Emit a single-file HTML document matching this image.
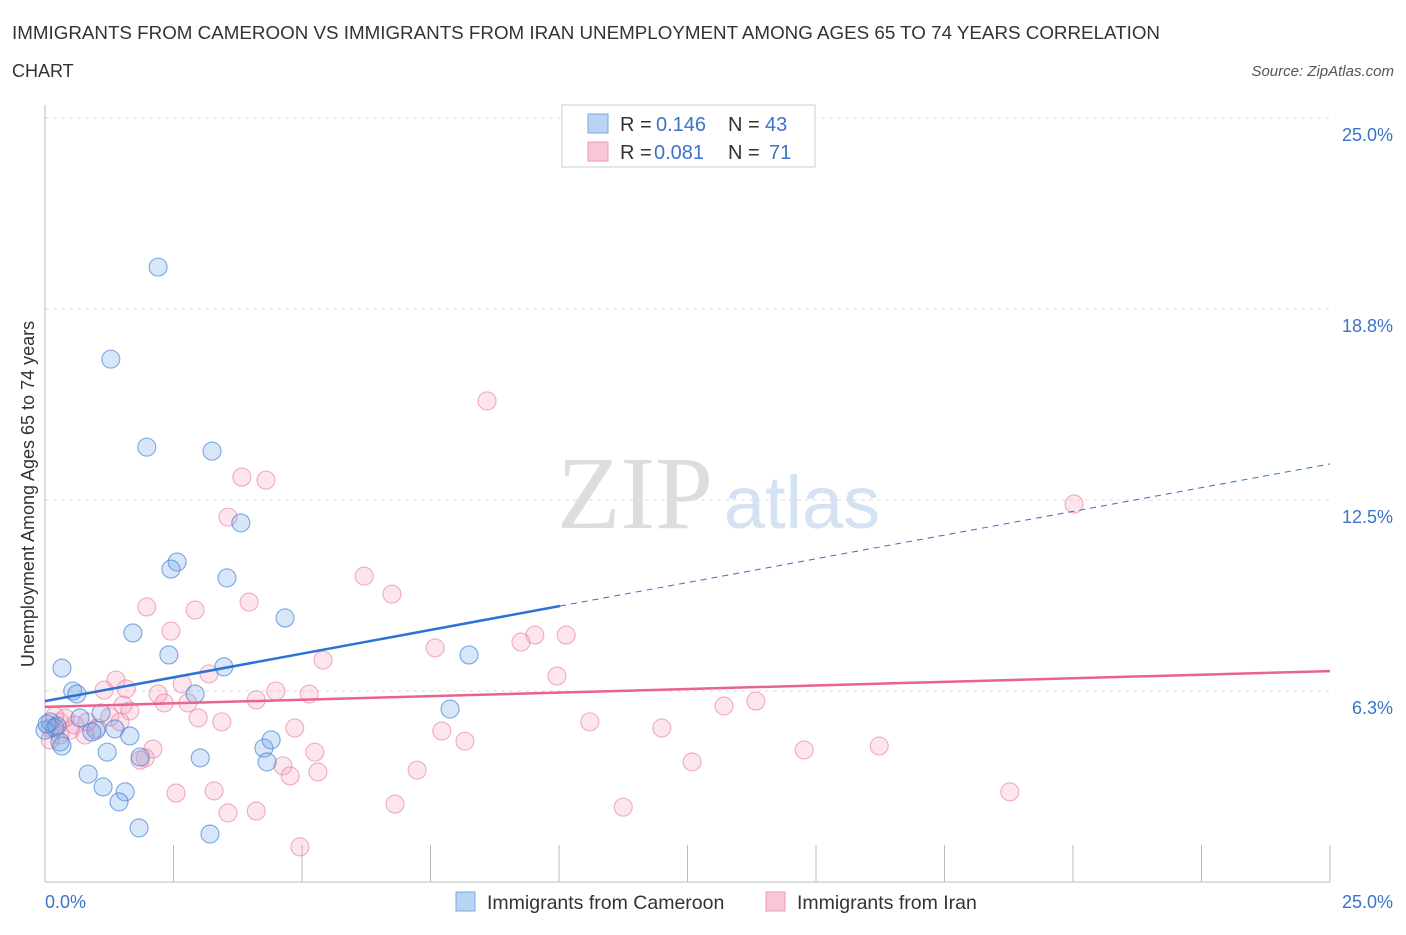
<!DOCTYPE html>
<html><head><meta charset="utf-8"><style>
body{margin:0;background:#fff;font-family:"Liberation Sans",sans-serif;}
svg text{font-family:"Liberation Sans",sans-serif;}
</style></head><body>
<svg id="chart" width="1406" height="930">
<text x="12" y="39" font-size="18" fill="#333" textLength="1148" lengthAdjust="spacingAndGlyphs">IMMIGRANTS FROM CAMEROON VS IMMIGRANTS FROM IRAN UNEMPLOYMENT AMONG AGES 65 TO 74 YEARS CORRELATION</text>
<text x="12" y="77" font-size="18" fill="#333">CHART</text>
<text x="1394" y="76" font-size="15" fill="#555" font-style="italic" text-anchor="end">Source: ZipAtlas.com</text>
<text x="635" y="528" font-size="104" fill="#ddd" text-anchor="middle" style="font-family:'Liberation Serif',serif">ZIP</text>
<text x="802" y="528" font-size="74" fill="#d4e2f4" text-anchor="middle">atlas</text>
<g id="grid"></g>
<g id="axes"></g>
<g id="marks"></g>
<text transform="translate(34,494) rotate(-90)" font-size="18" fill="#333" text-anchor="middle">Unemployment Among Ages 65 to 74 years</text>
<text x="45" y="908" font-size="18" fill="#3b73c9">0.0%</text>
<text x="1393" y="908" font-size="18" fill="#3b73c9" text-anchor="end">25.0%</text>
<g>
<rect x="562" y="105" width="253" height="62" fill="#fff" stroke="#ccc"/>
<rect x="588" y="114" width="20" height="19" fill="#b9d3f3" stroke="#7aa7e4"/>
<rect x="588" y="142" width="20" height="19" fill="#f8c6d6" stroke="#ec9ab5"/>
<text x="620" y="131" font-size="20" fill="#333">R = <tspan x="656" fill="#3b73c9">0.146</tspan><tspan x="728">N = </tspan><tspan x="765" fill="#3b73c9">43</tspan></text>
<text x="620" y="159" font-size="20" fill="#333">R = <tspan x="654" fill="#3b73c9">0.081</tspan><tspan x="728">N = </tspan><tspan fill="#3b73c9" x="769">71</tspan></text>
</g>
<g>
<rect x="456" y="892" width="19" height="19" fill="#b9d3f3" stroke="#7aa7e4"/>
<text x="487" y="909" font-size="19.5" fill="#333">Immigrants from Cameroon</text>
<rect x="766" y="892" width="19" height="19" fill="#f8c6d6" stroke="#ec9ab5"/>
<text x="797" y="909" font-size="19.5" fill="#333">Immigrants from Iran</text>
</g>
</svg>
<script>
const yTicks=[6.25,12.5,18.75,25];
const yTickLabels=["6.3%","12.5%","18.8%","25.0%"];
const camX=[2.20,1.28,1.98,3.25,3.81,2.57,2.45,3.54,4.67,1.71,2.41,3.48,0.33,0.54,0.62,2.92,1.09,7.88,0.10,0.19,0.68,0.99,1.36,1.65,0.29,1.21,1.85,4.26,4.40,3.02,4.32,0.84,1.13,1.56,1.44,1.83,3.21,8.25,0,0.23,0.91,0.33,0.04];
const camY=[20.12,17.11,14.23,14.10,11.75,10.47,10.24,9.95,8.64,8.15,7.43,7.04,7.00,6.25,6.15,6.15,5.53,5.66,5.24,5.04,5.37,4.97,5.01,4.78,4.58,4.25,4.09,4.38,4.65,4.06,3.93,3.53,3.11,2.95,2.62,1.77,1.57,7.43,4.97,5.10,4.91,4.45,5.17];
const iranX=[8.60,20.02,3.83,4.30,3.56,6.21,6.75,1.98,2.92,3.97,2.45,9.53,10.14,9.26,7.59,5.41,9.96,3.19,2.67,1.38,1.15,1.58,2.20,2.78,4.49,5.14,4.11,2.32,1.52,1.65,2.98,3.44,4.86,1.26,0.82,0.29,0.10,0.49,1.01,10.60,12.00,13.21,13.83,7.72,8.17,2.10,1.95,1.85,5.25,4.63,4.77,5.31,7.24,12.59,14.77,16.23,2.55,3.29,3.56,4.11,6.81,11.25,18.77,4.96,0.10,0.29,0.58,0.39,0.78,0.19,1.46];
const iranY=[15.74,12.37,13.25,13.15,11.94,10.01,9.42,9.00,8.90,9.16,8.21,8.08,8.08,7.85,7.66,7.26,6.74,6.81,6.48,6.61,6.28,6.32,6.15,5.86,6.25,6.15,5.96,5.86,5.79,5.60,5.37,5.24,5.04,5.40,5.24,5.24,5.04,4.97,5.04,5.24,5.04,5.76,5.92,4.94,4.61,4.35,4.06,3.99,4.25,3.80,3.47,3.60,3.66,3.93,4.32,4.45,2.91,2.98,2.26,2.32,2.55,2.45,2.95,1.15,4.65,4.81,5.14,5.37,4.81,5.43,5.24];
const camTrend=[5.92,13.68];
const iranTrend=[5.73,6.90];
const camSolidEnd=10.02;
const NS="http://www.w3.org/2000/svg";
const X=v=>45+v*(1285/25);
const Y=v=>882-v*(764/25);
function mk(tag,attrs,parent){const e=document.createElementNS(NS,tag);for(const k in attrs)e.setAttribute(k,attrs[k]);document.getElementById(parent).appendChild(e);return e;}
yTicks.forEach((t,i)=>{
  const g=mk('line',{x1:45,x2:1330,y1:Y(t),y2:Y(t),stroke:'#ddd','stroke-dasharray':'4,4'},'grid');
  
  
  const l=mk('text',{x:1393,y:Y(t)+23,'font-size':18,fill:'#3b73c9','text-anchor':'end'},'grid');
  l.textContent=yTickLabels[i];
  
  
});
const ax=mk('line',{x1:45,x2:45,y1:105,y2:882,stroke:'#bbb'},'axes');


const bx=mk('line',{x1:45,x2:1330,y1:882,y2:882,stroke:'#bbb'},'axes');


for(let i=1;i<=10;i++){
  const t=mk('line',{x1:X(i*2.5),x2:X(i*2.5),y1:845,y2:882,stroke:'#bbb'},'axes');
  
  
}
function dot(x,y,fill,stroke,name){
  const c=mk('circle',{cx:X(x),cy:Y(y),r:9,fill:fill,stroke:stroke,'stroke-width':1.1},'marks');
  
  
}
iranX.forEach((x,i)=>dot(x,iranY[i],'rgba(242,150,182,0.25)','rgba(232,120,160,0.6)','iran-point'));
camX.forEach((x,i)=>dot(x,camY[i],'rgba(110,165,230,0.28)','rgba(60,125,210,0.65)','cameroon-point'));
const cy=x=>camTrend[0]+(camTrend[1]-camTrend[0])*x/25;
const t1=mk('line',{x1:X(0),y1:Y(cy(0)),x2:X(camSolidEnd),y2:Y(cy(camSolidEnd)),stroke:'#2c72d4','stroke-width':2.5},'marks');


const t2=mk('line',{x1:X(camSolidEnd),y1:Y(cy(camSolidEnd)),x2:X(25),y2:Y(cy(25)),stroke:'#2c72d4','stroke-width':1,'stroke-dasharray':'6,5'},'marks');


const t3=mk('line',{x1:X(0),y1:Y(iranTrend[0]),x2:X(25),y2:Y(iranTrend[1]),stroke:'#e8638f','stroke-width':2.5},'marks');


</script>
</body></html>
